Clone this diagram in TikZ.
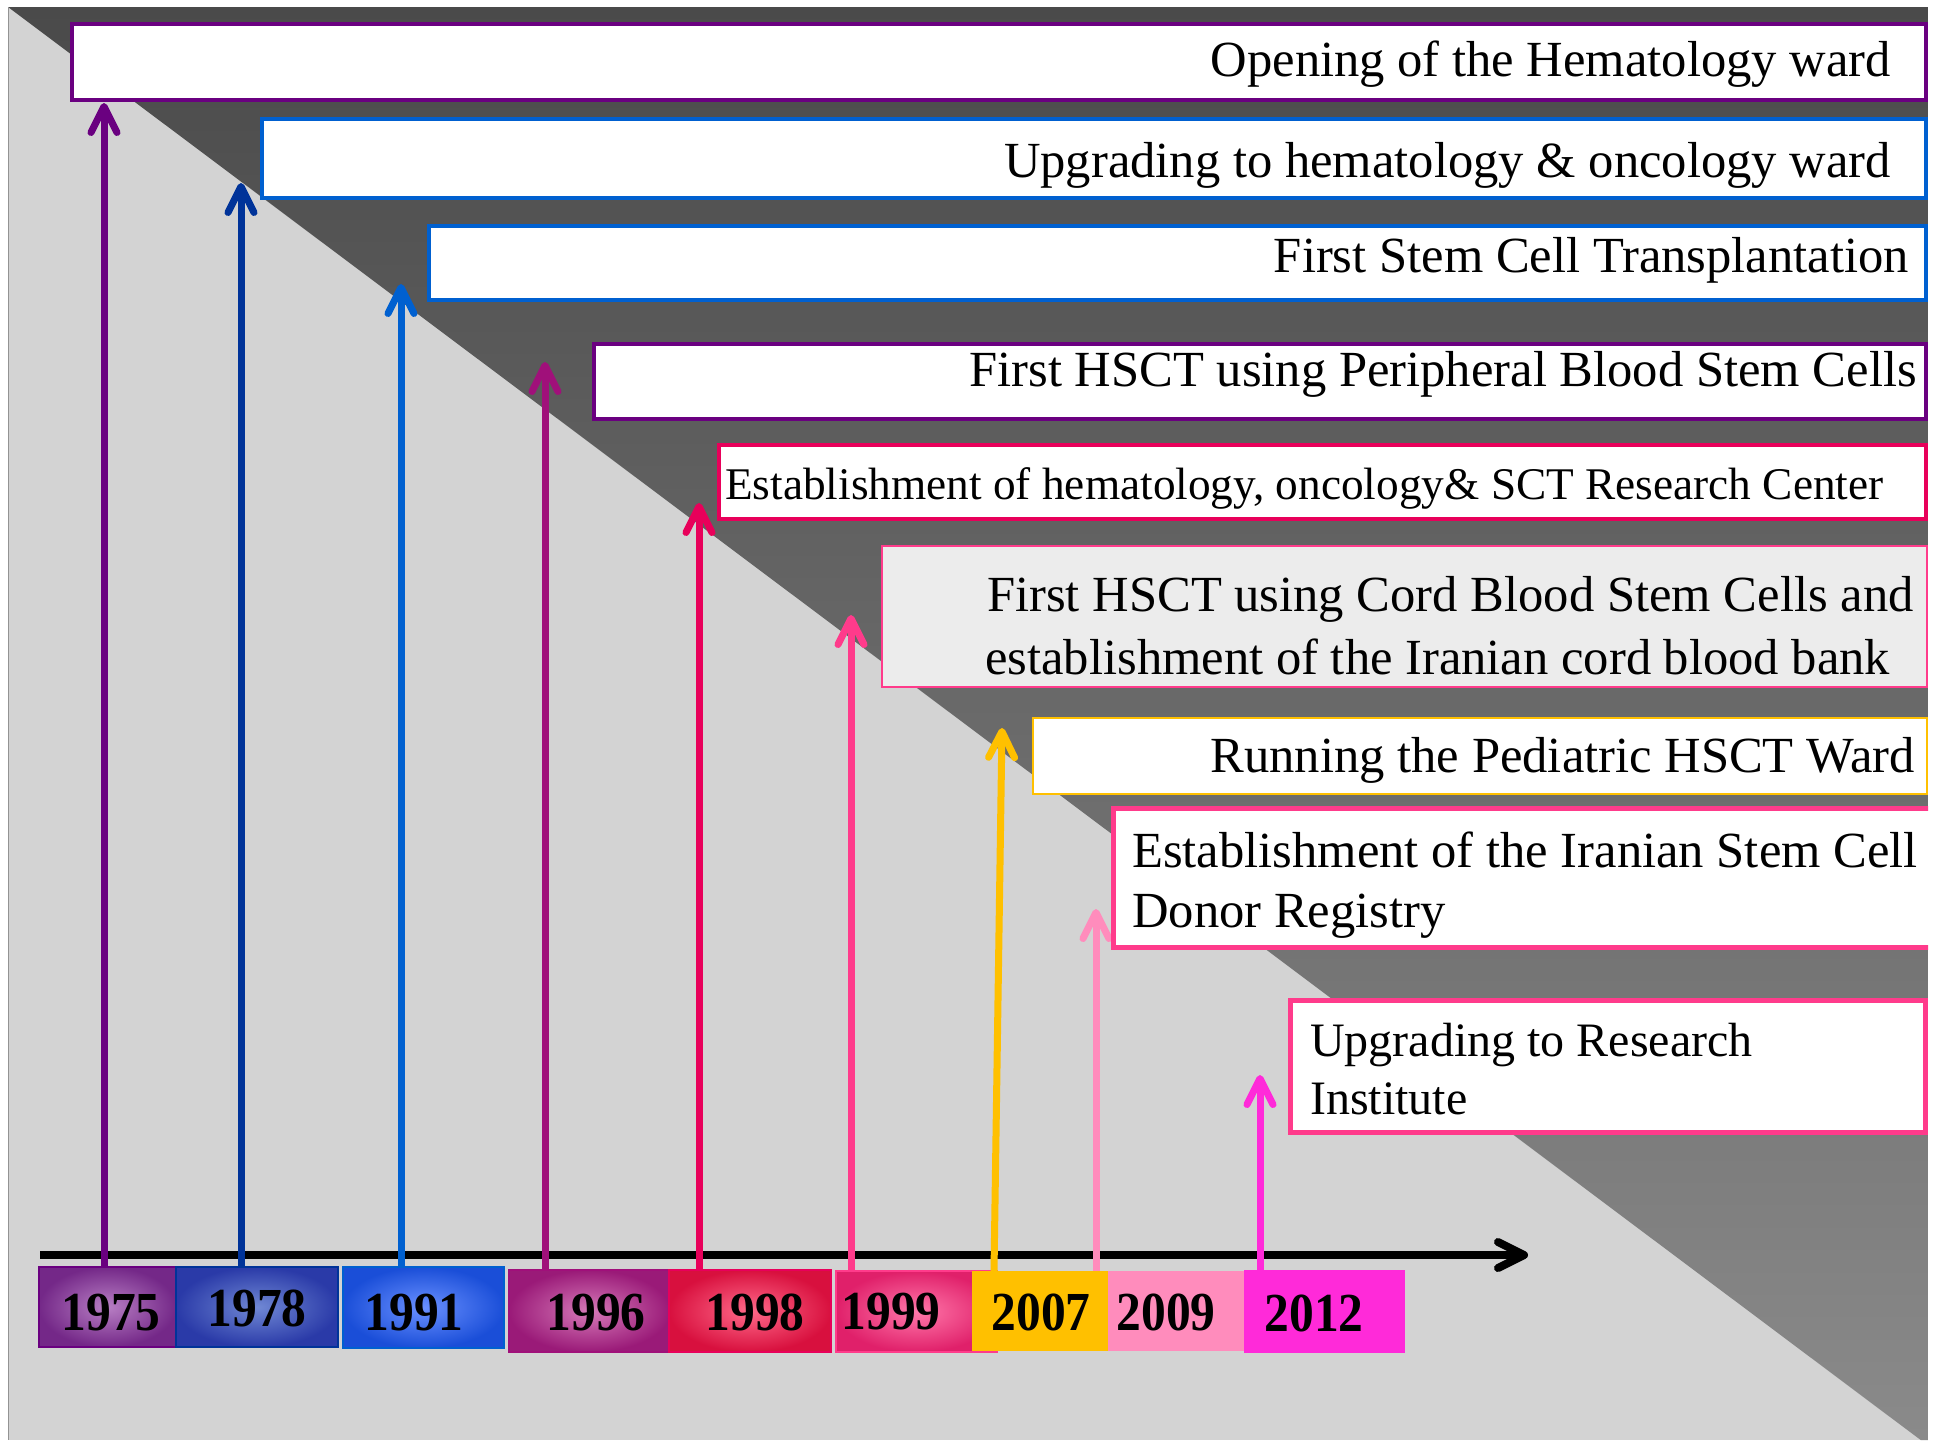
\documentclass[tikz,border=0pt]{standalone}
\usepackage{fontspec}
\usepackage{graphicx}
\setmainfont{Liberation Serif}
\usetikzlibrary{arrows.meta}
\definecolor{cPurple}{HTML}{6A0080}
\definecolor{cNavy}{HTML}{003399}
\definecolor{cBlue}{HTML}{0060D0}
\definecolor{cPlum}{HTML}{A0107A}
\definecolor{cCrimson}{HTML}{E8005A}
\definecolor{cPink}{HTML}{FF3B8B}
\definecolor{cGold}{HTML}{FFC000}
\definecolor{cRose}{HTML}{FF8CBC}
\definecolor{cMagenta}{HTML}{FF2AD9}
\definecolor{bgLight}{HTML}{D3D3D3}
\definecolor{bgDarkTop}{HTML}{4A4A4A}
\definecolor{bgDarkBot}{HTML}{8A8A8A}
\definecolor{cordFill}{HTML}{ECECEC}
\definecolor{i1975}{HTML}{B87FC4}\definecolor{o1975}{HTML}{742888}
\definecolor{i1978}{HTML}{7088D4}\definecolor{o1978}{HTML}{2A3AA8}
\definecolor{i1991}{HTML}{6A90FF}\definecolor{o1991}{HTML}{1A4ED8}
\definecolor{i1996}{HTML}{D67AB8}\definecolor{o1996}{HTML}{9A1A78}
\definecolor{i1998}{HTML}{FF6A8A}\definecolor{o1998}{HTML}{D8103E}
\definecolor{i1999}{HTML}{FF78AA}\definecolor{o1999}{HTML}{E0206A}
\begin{document}
\begin{tikzpicture}[x=1pt,y=-1pt,
  evbox/.style={fill=white, line width=4pt, inner sep=0pt, outer sep=0pt, anchor=north west},
  evtext/.style={font=\fontsize{50.6}{60}\selectfont, inner sep=0pt, text=black},
  yearbox/.style={inner sep=0pt, outer sep=0pt, anchor=north west, line width=1.5pt},
  yeartext/.style={font=\fontsize{55}{60}\selectfont\bfseries, inner sep=0pt, anchor=base, text=black},
  evarrow/.style={line width=7pt, -{Straight Barb[length=26pt,width=26pt,round]}},
  axisline/.style={line width=8pt, black, -{Straight Barb[length=26pt,width=26pt,round]}}
]
\useasboundingbox (0,0) rectangle (1937,1440);
\fill[white] (0,0) rectangle (1937,1440);
% background
\fill[bgLight] (8,7) rectangle (1928,1440);
\begin{scope}
  \clip (8,7) -- (1928,7) -- (1928,1440) -- (1920.7,1440) -- cycle;
  \shade[top color=bgDarkTop, bottom color=bgDarkBot] (8,7) rectangle (1928,1440);
\end{scope}
\draw[gray!85, line width=1.5pt] (8.5,7) -- (8.5,1440);

% time axis
\coordinate (axS) at (40,1255);
\coordinate (axE) at (1528,1255);
\draw[axisline] (axS) -- (axE);

% year boxes
\node[yearbox, inner color=i1975, outer color=o1975, draw=cPurple, minimum width=137pt, minimum height=80pt] (y1975) at (39,1267) {};
\node[yearbox, inner color=i1978, outer color=o1978, draw=cNavy, minimum width=162pt, minimum height=80pt] (y1978) at (176,1267) {};
\node[yearbox, inner color=i1991, outer color=o1991, draw=cBlue, minimum width=161pt, minimum height=81pt] (y1991) at (343,1267) {};
\node[yearbox, inner color=i1996, outer color=o1996, draw=cPlum, minimum width=161pt, minimum height=82pt] (y1996) at (509,1270) {};
\node[yearbox, inner color=i1998, outer color=o1998, draw=cCrimson, minimum width=162pt, minimum height=82pt] (y1998) at (669,1270) {};
\node[yearbox, inner color=i1999, outer color=o1999, draw=cPink, minimum width=161pt, minimum height=81pt] (y1999) at (836,1271) {};
\node[yearbox, fill=cGold, minimum width=136pt, minimum height=80pt] (y2007) at (972,1271) {};
\node[yearbox, fill=cRose, minimum width=136pt, minimum height=80pt] (y2009) at (1108,1271) {};
\node[yearbox, fill=cMagenta, minimum width=161pt, minimum height=83pt] (y2012) at (1244,1270) {};

\node[yeartext] (n1975) at (111,1330) {\scalebox{0.9}[1]{1975}};
\node[yeartext] (n1978) at (257,1326) {\scalebox{0.9}[1]{1978}};
\node[yeartext] (n1991) at (414,1330) {\scalebox{0.9}[1]{1991}};
\node[yeartext] (n1996) at (596,1330) {\scalebox{0.9}[1]{1996}};
\node[yeartext] (n1998) at (755,1330) {\scalebox{0.9}[1]{1998}};
\node[yeartext] (n1999) at (891,1329) {\scalebox{0.9}[1]{1999}};
\node[yeartext] (n2007) at (1041,1330) {\scalebox{0.9}[1]{2007}};
\node[yeartext] (n2009) at (1166,1330) {\scalebox{0.9}[1]{2009}};
\node[yeartext] (n2012) at (1314,1331) {\scalebox{0.9}[1]{2012}};

% arrow tips
\coordinate (t1975) at (104,103);
\coordinate (t1978) at (241,183);
\coordinate (t1991) at (401,284);
\coordinate (t1996) at (545,362);
\coordinate (t1998) at (699,503);
\coordinate (t1999) at (851,615);
\coordinate (t2007) at (1002,728);
\coordinate (b2007) at (994,1271);
\coordinate (t2009) at (1096,909);
\coordinate (t2012) at (1260,1075);

\draw[evarrow, cPurple] (t1975 |- y1975.north) -- (t1975);
\draw[evarrow, cNavy] (t1978 |- y1978.north) -- (t1978);
\draw[evarrow, cBlue] (t1991 |- y1991.north) -- (t1991);
\draw[evarrow, cPlum] (t1996 |- y1996.north) -- (t1996);
\draw[evarrow, cCrimson] (t1998 |- y1998.north) -- (t1998);
\draw[evarrow, cPink] (t1999 |- y1999.north) -- (t1999);
\draw[evarrow, cGold] (b2007) -- (t2007);
\draw[evarrow, cRose] (t2009 |- y2009.north) -- (t2009);
\draw[evarrow, cMagenta] (t2012 |- y2012.north) -- (t2012);

% event boxes
\node[evbox, draw=cPurple, minimum width=1854pt, minimum height=76pt] (e1) at (72,24) {};
\node[evbox, draw=cBlue, minimum width=1664pt, minimum height=79pt] (e2) at (262,119) {};
\node[evbox, draw=cBlue, minimum width=1497pt, minimum height=74pt] (e3) at (429,226) {};
\node[evbox, draw=cPurple, minimum width=1332pt, minimum height=75pt] (e4) at (594,344) {};
\node[evbox, draw=cCrimson, minimum width=1207pt, minimum height=74pt] (e5) at (719,445) {};
\node[evbox, draw=cPink, fill=cordFill, line width=2pt, minimum width=1045pt, minimum height=141pt] (e6) at (882,546) {};
\node[evbox, draw=cGold, line width=2pt, minimum width=894pt, minimum height=76pt] (e7) at (1033,718) {};
\begin{scope}
  \clip (0,0) rectangle (1928,1440);
  \node[evbox, draw=cPink, line width=5pt, minimum width=830pt, minimum height=139pt] (e8) at (1113.5,808.5) {};
\end{scope}
\node[evbox, draw=cPink, line width=5pt, minimum width=635pt, minimum height=132pt] (e9) at (1290.5,1000.5) {};

% event texts
\node[evtext, anchor=base east] (l1) at (1891,76) {Opening of the Hematology ward};
\node[evtext, anchor=base east] (l2) at (1891,177) {Upgrading to hematology \& oncology ward};
\node[evtext, anchor=base east] (l3) at (1909,272) {First Stem Cell Transplantation};
\node[evtext, anchor=base east] (l4) at (1917,386) {First HSCT using Peripheral Blood Stem Cells};
\node[evtext, anchor=base west, font=\fontsize{45.3}{54}\selectfont] (l5) at (725,499) {Establishment of hematology, oncology\& SCT Research Center};
\node[evtext, anchor=base west] (l6a) at (987,611) {First HSCT using Cord Blood Stem Cells and};
\node[evtext, anchor=base west] (l6b) at (985,674) {establishment of the Iranian cord blood bank};
\node[evtext, anchor=base east] (l7) at (1915,772) {Running the Pediatric HSCT Ward};
\node[evtext, anchor=base west] (l8a) at (1132,867) {Establishment of the Iranian Stem Cell};
\node[evtext, anchor=base west] (l8b) at (1132,927) {Donor Registry};
\node[evtext, anchor=base west, font=\fontsize{48}{57}\selectfont] (l9a) at (1310,1056) {Upgrading to Research};
\node[evtext, anchor=base west, font=\fontsize{48}{57}\selectfont] (l9b) at (1310,1114) {Institute};
\end{tikzpicture}
\end{document}
